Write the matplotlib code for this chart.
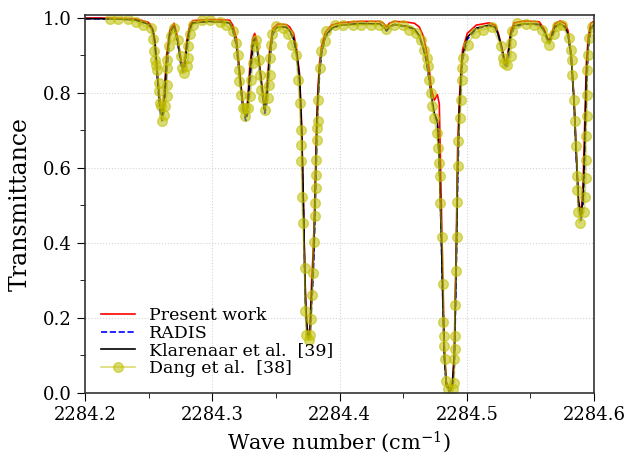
import matplotlib
matplotlib.use("Agg")
import matplotlib.pyplot as plt
from matplotlib.ticker import MultipleLocator, FormatStrFormatter

plt.rcParams['font.family'] = 'DejaVu Serif'
plt.rcParams['mathtext.fontset'] = 'dejavuserif'

# model spectra, shared wavenumber grid (cm-1)
wn = [2284.2000, 2284.2118, 2284.2275, 2284.2392, 2284.2447, 2284.2494, 2284.2510,
      2284.2533, 2284.2549, 2284.2573, 2284.2588, 2284.2604, 2284.2620, 2284.2641,
      2284.2667, 2284.2700, 2284.2729, 2284.2753, 2284.2769, 2284.2784, 2284.2800,
      2284.2824, 2284.2847, 2284.2980, 2284.3137, 2284.3161, 2284.3190, 2284.3216,
      2284.3239, 2284.3263, 2284.3278, 2284.3294, 2284.3318, 2284.3333, 2284.3349,
      2284.3365, 2284.3388, 2284.3412, 2284.3427, 2284.3451, 2284.3475, 2284.3514,
      2284.3584, 2284.3608, 2284.3639, 2284.3663, 2284.3686, 2284.3702, 2284.3710,
      2284.3718, 2284.3725, 2284.3733, 2284.3745, 2284.3757, 2284.3769, 2284.3780,
      2284.3792, 2284.3800, 2284.3808, 2284.3816, 2284.3824, 2284.3831, 2284.3843,
      2284.3859, 2284.3890, 2284.3937, 2284.4000, 2284.4157, 2284.4314, 2284.4345,
      2284.4369, 2284.4392, 2284.4431, 2284.4525, 2284.4588, 2284.4627, 2284.4659,
      2284.4682, 2284.4706, 2284.4722, 2284.4745, 2284.4769, 2284.4784, 2284.4800,
      2284.4812, 2284.4824, 2284.4839, 2284.4863, 2284.4886, 2284.4902, 2284.4910,
      2284.4920, 2284.4928, 2284.4941, 2284.4955, 2284.4967, 2284.5004, 2284.5075,
      2284.5176, 2284.5224, 2284.5247, 2284.5271, 2284.5294, 2284.5310, 2284.5325,
      2284.5345, 2284.5373, 2284.5451, 2284.5569, 2284.5608, 2284.5631, 2284.5647,
      2284.5671, 2284.5694, 2284.5733, 2284.5773, 2284.5796, 2284.5820, 2284.5843,
      2284.5863, 2284.5878, 2284.5898, 2284.5914, 2284.5927, 2284.5940, 2284.5955,
      2284.5974, 2284.6000]

t_klarenaar = [0.997, 0.997, 0.996, 0.994, 0.988, 0.983, 0.978,
               0.965, 0.935, 0.830, 0.770, 0.738, 0.770, 0.880,
               0.960, 0.977, 0.935, 0.885, 0.862, 0.875, 0.930,
               0.972, 0.986, 0.990, 0.986, 0.968, 0.930, 0.845,
               0.770, 0.735, 0.765, 0.845, 0.930, 0.945, 0.930,
               0.890, 0.820, 0.752, 0.790, 0.900, 0.962, 0.976,
               0.974, 0.965, 0.945, 0.905, 0.840, 0.700, 0.590,
               0.470, 0.350, 0.240, 0.165, 0.148, 0.165, 0.260,
               0.330, 0.410, 0.510, 0.630, 0.730, 0.790, 0.865,
               0.910, 0.952, 0.972, 0.980, 0.984, 0.983, 0.976,
               0.966, 0.976, 0.982, 0.977, 0.970, 0.952, 0.920,
               0.890, 0.835, 0.790, 0.745, 0.725, 0.620, 0.420,
               0.250, 0.100, 0.025, 0.006, 0.020, 0.090, 0.230,
               0.410, 0.600, 0.750, 0.840, 0.900, 0.948, 0.972,
               0.980, 0.974, 0.955, 0.925, 0.888, 0.877, 0.900,
               0.955, 0.978, 0.984, 0.982, 0.965, 0.945, 0.935,
               0.955, 0.976, 0.984, 0.975, 0.955, 0.900, 0.780,
               0.620, 0.510, 0.470, 0.520, 0.660, 0.840, 0.930,
               0.972, 0.982]

t_present = [0.999, 0.999, 0.998, 0.997, 0.992, 0.988, 0.983,
             0.970, 0.940, 0.835, 0.775, 0.745, 0.790, 0.900,
             0.968, 0.985, 0.945, 0.890, 0.866, 0.885, 0.940,
             0.980, 0.992, 0.995, 0.993, 0.980, 0.945, 0.855,
             0.775, 0.740, 0.780, 0.865, 0.945, 0.958, 0.940,
             0.895, 0.825, 0.758, 0.805, 0.915, 0.970, 0.983,
             0.981, 0.975, 0.958, 0.915, 0.850, 0.720, 0.600,
             0.480, 0.360, 0.250, 0.170, 0.155, 0.180, 0.290,
             0.370, 0.450, 0.550, 0.670, 0.760, 0.815, 0.880,
             0.925, 0.962, 0.980, 0.986, 0.990, 0.990, 0.985,
             0.975, 0.985, 0.990, 0.988, 0.985, 0.975, 0.950,
             0.915, 0.860, 0.810, 0.780, 0.795, 0.770, 0.500,
             0.300, 0.120, 0.030, 0.008, 0.025, 0.110, 0.270,
             0.460, 0.650, 0.780, 0.860, 0.915, 0.958, 0.980,
             0.986, 0.980, 0.960, 0.928, 0.890, 0.880, 0.910,
             0.965, 0.986, 0.991, 0.989, 0.970, 0.948, 0.937,
             0.962, 0.984, 0.991, 0.984, 0.965, 0.905, 0.780,
             0.620, 0.510, 0.475, 0.560, 0.720, 0.880, 0.950,
             0.985, 0.990]

t_radis = [0.997, 0.997, 0.996, 0.994, 0.988, 0.983, 0.977,
           0.962, 0.928, 0.815, 0.755, 0.725, 0.750, 0.850,
           0.950, 0.975, 0.930, 0.875, 0.855, 0.862, 0.915,
           0.965, 0.985, 0.990, 0.986, 0.966, 0.925, 0.835,
           0.760, 0.725, 0.745, 0.820, 0.915, 0.940, 0.925,
           0.880, 0.810, 0.745, 0.770, 0.880, 0.955, 0.975,
           0.974, 0.964, 0.942, 0.900, 0.830, 0.690, 0.580,
           0.460, 0.340, 0.230, 0.158, 0.140, 0.150, 0.230,
           0.300, 0.380, 0.480, 0.590, 0.700, 0.770, 0.850,
           0.905, 0.948, 0.970, 0.979, 0.984, 0.983, 0.975,
           0.964, 0.974, 0.981, 0.976, 0.969, 0.950, 0.916,
           0.885, 0.830, 0.785, 0.742, 0.720, 0.610, 0.410,
           0.240, 0.090, 0.020, 0.003, 0.012, 0.070, 0.200,
           0.380, 0.560, 0.720, 0.820, 0.888, 0.942, 0.970,
           0.979, 0.973, 0.953, 0.920, 0.880, 0.866, 0.885,
           0.945, 0.975, 0.983, 0.981, 0.963, 0.942, 0.930,
           0.948, 0.972, 0.983, 0.974, 0.953, 0.895, 0.770,
           0.610, 0.500, 0.460, 0.500, 0.620, 0.800, 0.915,
           0.968, 0.980]

# Dang et al. data points
wn_dang = [2284.2196, 2284.2261, 2284.2340, 2284.2400, 2284.2457, 2284.2518, 2284.2531,
           2284.2541, 2284.2549, 2284.2557, 2284.2567, 2284.2578, 2284.2583, 2284.2588,
           2284.2596, 2284.2602, 2284.2620, 2284.2627, 2284.2641, 2284.2645, 2284.2646,
           2284.2647, 2284.2661, 2284.2672, 2284.2698, 2284.2732, 2284.2751, 2284.2761,
           2284.2776, 2284.2798, 2284.2810, 2284.2812, 2284.2824, 2284.2849, 2284.2923,
           2284.2986, 2284.3059, 2284.3111, 2284.3163, 2284.3190, 2284.3202, 2284.3208,
           2284.3212, 2284.3229, 2284.3242, 2284.3255, 2284.3257, 2284.3281, 2284.3300,
           2284.3307, 2284.3320, 2284.3333, 2284.3345, 2284.3370, 2284.3373, 2284.3386,
           2284.3398, 2284.3412, 2284.3438, 2284.3443, 2284.3451, 2284.3453, 2284.3464,
           2284.3471, 2284.3504, 2284.3553, 2284.3595, 2284.3626, 2284.3660, 2284.3673,
           2284.3686, 2284.3694, 2284.3700, 2284.3701, 2284.3704, 2284.3712, 2284.3725,
           2284.3731, 2284.3739, 2284.3759, 2284.3770, 2284.3778, 2284.3786, 2284.3791,
           2284.3796, 2284.3804, 2284.3809, 2284.3812, 2284.3813, 2284.3817, 2284.3822,
           2284.3826, 2284.3830, 2284.3834, 2284.3843, 2284.3856, 2284.3882, 2284.3896,
           2284.3961, 2284.4026, 2284.4104, 2284.4170, 2284.4249, 2284.4314, 2284.4366,
           2284.4431, 2284.4496, 2284.4549, 2284.4602, 2284.4641, 2284.4667, 2284.4685,
           2284.4693, 2284.4706, 2284.4719, 2284.4727, 2284.4745, 2284.4763, 2284.4776,
           2284.4784, 2284.4786, 2284.4790, 2284.4806, 2284.4816, 2284.4817, 2284.4818,
           2284.4824, 2284.4831, 2284.4837, 2284.4849, 2284.4889, 2284.4902, 2284.4903,
           2284.4904, 2284.4905, 2284.4907, 2284.4915, 2284.4920, 2284.4921, 2284.4928,
           2284.4933, 2284.4947, 2284.4955, 2284.4959, 2284.4962, 2284.4967, 2284.5006,
           2284.5067, 2284.5124, 2284.5202, 2284.5268, 2284.5281, 2284.5294, 2284.5320,
           2284.5347, 2284.5348, 2284.5359, 2284.5398, 2284.5464, 2284.5529, 2284.5595,
           2284.5621, 2284.5647, 2284.5686, 2284.5712, 2284.5749, 2284.5804, 2284.5817,
           2284.5825, 2284.5830, 2284.5843, 2284.5849, 2284.5861, 2284.5869, 2284.5870,
           2284.5875, 2284.5888, 2284.5922, 2284.5929, 2284.5935, 2284.5936, 2284.5937,
           2284.5943, 2284.5947, 2284.5948, 2284.5953, 2284.5961, 2284.5985]

t_dang = [0.997, 0.997, 0.997, 0.989, 0.980, 0.972, 0.943,
          0.910, 0.888, 0.873, 0.860, 0.826, 0.804, 0.773,
          0.764, 0.724, 0.741, 0.764, 0.790, 0.821, 0.866,
          0.888, 0.924, 0.952, 0.972, 0.941, 0.897, 0.866,
          0.853, 0.871, 0.892, 0.924, 0.955, 0.981, 0.993,
          0.993, 0.988, 0.979, 0.965, 0.932, 0.901, 0.861,
          0.830, 0.795, 0.759, 0.759, 0.737, 0.759, 0.790,
          0.835, 0.879, 0.924, 0.940, 0.888, 0.848, 0.808,
          0.786, 0.755, 0.786, 0.821, 0.848, 0.892, 0.928,
          0.955, 0.977, 0.972, 0.955, 0.928, 0.901, 0.835,
          0.773, 0.701, 0.661, 0.617, 0.523, 0.454, 0.332,
          0.219, 0.155, 0.141, 0.155, 0.196, 0.261, 0.319,
          0.403, 0.472, 0.507, 0.546, 0.581, 0.621, 0.673,
          0.706, 0.724, 0.780, 0.866, 0.910, 0.937, 0.964,
          0.981, 0.981, 0.979, 0.981, 0.981, 0.981, 0.970,
          0.981, 0.979, 0.968, 0.959, 0.941, 0.915, 0.892,
          0.871, 0.835, 0.799, 0.764, 0.733, 0.692, 0.653,
          0.613, 0.577, 0.507, 0.415, 0.291, 0.190, 0.152,
          0.124, 0.090, 0.033, 0.010, 0.010, 0.027, 0.090,
          0.116, 0.152, 0.235, 0.324, 0.415, 0.510, 0.605,
          0.670, 0.733, 0.781, 0.835, 0.866, 0.892, 0.928,
          0.960, 0.968, 0.975, 0.924, 0.892, 0.879, 0.875,
          0.897, 0.932, 0.964, 0.986, 0.984, 0.981, 0.968,
          0.946, 0.928, 0.955, 0.977, 0.980, 0.946, 0.915,
          0.888, 0.848, 0.781, 0.724, 0.657, 0.577, 0.541,
          0.483, 0.454, 0.483, 0.523, 0.572, 0.621, 0.685,
          0.737, 0.795, 0.861, 0.901, 0.946, 0.975]

fig = plt.figure(figsize=(6.28, 4.55), dpi=100)
ax = fig.add_axes([0.1354, 0.1363, 0.8105, 0.8308])

ax.plot(wn, t_present, color='r', lw=1.2, label='Present work')
ax.plot(wn, t_radis, color='b', ls='--', lw=1.2, label='RADIS')
ax.plot(wn, t_klarenaar, color='k', lw=1.2, label='Klarenaar et al.  [39]')
ax.plot(wn_dang, t_dang, color='y', marker='o', ms=7, lw=1.2, alpha=0.55,
        label='Dang et al.  [38]')

ax.set_xlim(2284.2, 2284.6)
ax.set_ylim(0, 1.007)
ax.xaxis.set_major_locator(MultipleLocator(0.1))
ax.xaxis.set_minor_locator(MultipleLocator(0.05))
ax.xaxis.set_major_formatter(FormatStrFormatter('%.1f'))
ax.yaxis.set_major_locator(MultipleLocator(0.2))
ax.yaxis.set_minor_locator(MultipleLocator(0.1))
ax.tick_params(which='major', direction='out', length=6, labelsize=13)
ax.tick_params(which='minor', direction='out', length=3.5)
ax.grid(True, which='major', ls=':', color='#d5d5d5', lw=0.8)
for s in ax.spines.values():
    s.set_color('#333333')
    s.set_linewidth(1.2)

ax.set_xlabel('Wave number (cm$^{-1}$)', fontsize=15)
ax.set_ylabel('Transmittance', fontsize=17)
ax.yaxis.set_label_coords(-0.105, 0.5)
ax.legend(loc='lower left', frameon=False, fontsize=12.5, labelspacing=0.05,
          handlelength=2.0, handletextpad=0.8)

fig.savefig('out.png', dpi=100)
